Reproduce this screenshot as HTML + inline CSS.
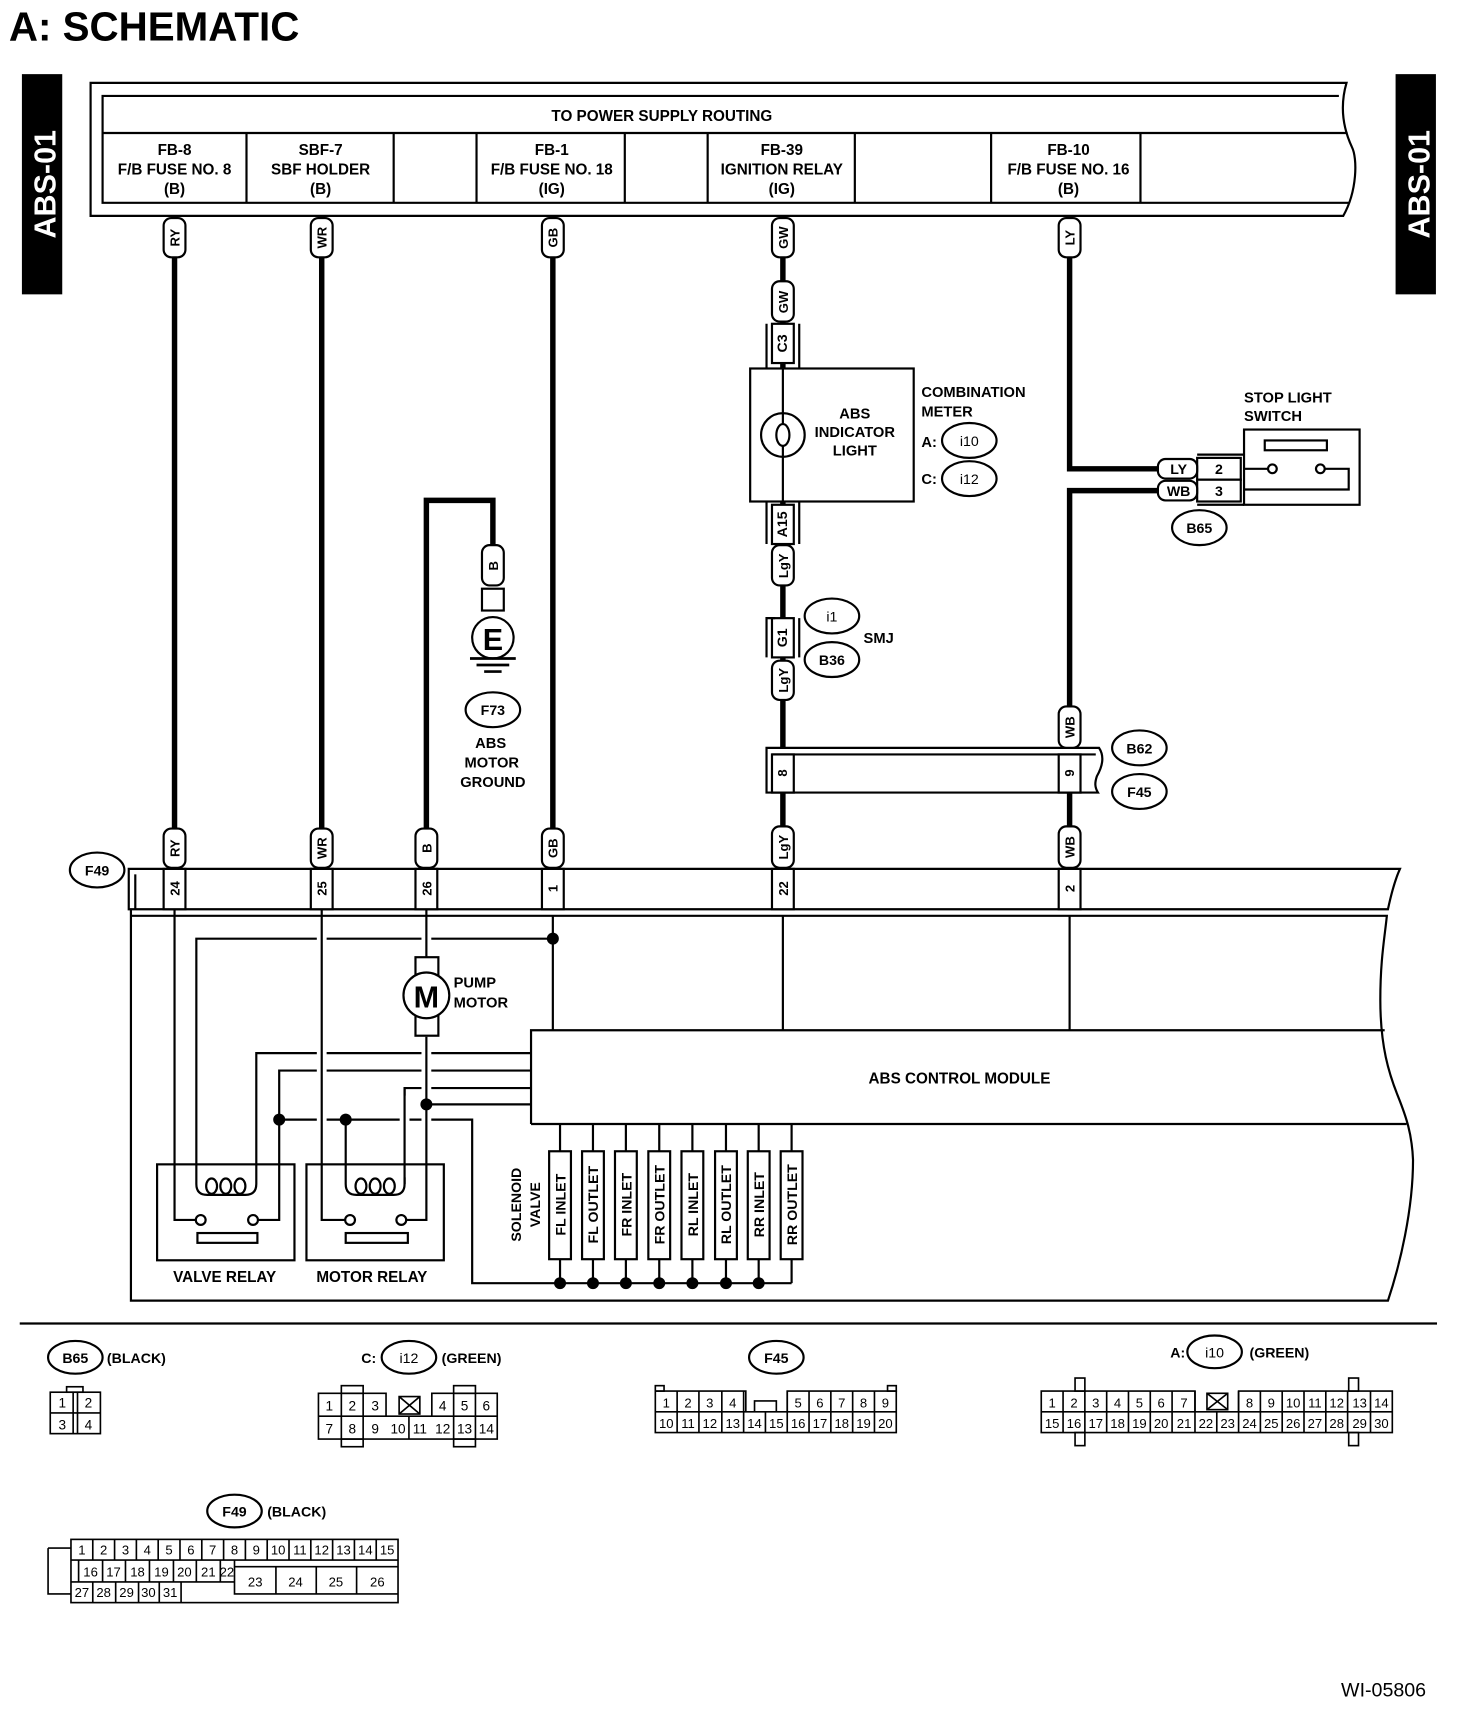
<!DOCTYPE html>
<html><head><meta charset="utf-8"><style>
html,body{margin:0;padding:0;background:#fff;}
svg{display:block;}
text{font-family:"Liberation Sans",Arial,sans-serif;font-weight:bold;fill:#000;}
.n{font-family:"Liberation Sans Narrow","Liberation Sans",sans-serif;}
</style></head><body>
<svg width="1472" height="1716" viewBox="0 0 1350 1574" xmlns="http://www.w3.org/2000/svg">
<rect width="1350" height="1574" fill="#fff"/>
<text x="8" y="37" font-size="37">A:  SCHEMATIC</text>

<!-- side bars -->
<rect x="20" y="68" width="37" height="202" fill="#000"/>
<text transform="translate(51,169) rotate(-90)" text-anchor="middle" font-size="28" style="fill:#fff">ABS-01</text>
<rect x="1280" y="68" width="37" height="202" fill="#000"/>
<text transform="translate(1311,169) rotate(-90)" text-anchor="middle" font-size="28" style="fill:#fff">ABS-01</text>

<g fill="none" stroke="#000" stroke-width="2">
<path d="M1235 76 H83 V198 H1232 C1245 175 1245 145 1240 135 C1233 120 1228 100 1235 76 Z"/>
<path d="M1228 88 H94 V186 H1238"/>
<line x1="94" y1="122" x2="1236" y2="122"/>
<line x1="226" y1="122" x2="226" y2="186"/><line x1="361" y1="122" x2="361" y2="186"/>
<line x1="437" y1="122" x2="437" y2="186"/><line x1="573" y1="122" x2="573" y2="186"/>
<line x1="649" y1="122" x2="649" y2="186"/><line x1="784" y1="122" x2="784" y2="186"/>
<line x1="909" y1="122" x2="909" y2="186"/><line x1="1046" y1="122" x2="1046" y2="186"/>
</g>
<g font-size="14" text-anchor="middle" class="n">
<text x="607" y="111" class="n">TO POWER SUPPLY ROUTING</text>
<text x="160" y="142" class="n">FB-8</text><text x="160" y="160" class="n">F/B FUSE NO. 8</text><text x="160" y="178" class="n">(B)</text>
<text x="294" y="142" class="n">SBF-7</text><text x="294" y="160" class="n">SBF HOLDER</text><text x="294" y="178" class="n">(B)</text>
<text x="506" y="142" class="n">FB-1</text><text x="506" y="160" class="n">F/B FUSE NO. 18</text><text x="506" y="178" class="n">(IG)</text>
<text x="717" y="142" class="n">FB-39</text><text x="717" y="160" class="n">IGNITION RELAY</text><text x="717" y="178" class="n">(IG)</text>
<text x="980" y="142" class="n">FB-10</text><text x="980" y="160" class="n">F/B FUSE NO. 16</text><text x="980" y="178" class="n">(B)</text>
</g>

<g stroke="#000" stroke-width="5" fill="none">
<line x1="160" y1="236" x2="160" y2="760"/>
<line x1="295" y1="236" x2="295" y2="760"/>
<line x1="507" y1="236" x2="507" y2="760"/>
<line x1="718" y1="236" x2="718" y2="760"/>
<path d="M981 236 V430 H1062"/>
<path d="M1062 450 H981 V760"/>
<path d="M391 760 V459 H452 V500"/>
</g>

<g stroke="#000" stroke-width="2" fill="#fff">
<rect x="688" y="338" width="150" height="122"/>
<rect x="708" y="297" width="20" height="36"/>
<rect x="708" y="463" width="20" height="36"/>
<rect x="708" y="567" width="20" height="36"/>
</g>
<g stroke="#000" stroke-width="2" fill="none">
<path d="M703 338 V297 M733 338 V297 M703 460 V499 M733 460 V499 M703 603 V567 H711 M733 603 V567"/>
<line x1="718" y1="338" x2="718" y2="460"/>
<circle cx="718" cy="399" r="20" fill="#fff"/>
<ellipse cx="718" cy="399" rx="6" ry="10"/>
<line x1="718" y1="379" x2="718" y2="389"/><line x1="718" y1="409" x2="718" y2="419"/>
</g>
<g font-size="13.5" text-anchor="middle">
<text x="784" y="384">ABS</text><text x="784" y="401">INDICATOR</text><text x="784" y="418">LIGHT</text>
</g>
<text x="845" y="364" font-size="13.5">COMBINATION</text>
<text x="845" y="382" font-size="13.5">METER</text>
<text x="845" y="410" font-size="13.5">A:</text>
<text x="845" y="444" font-size="13.5">C:</text>
<g stroke="#000" stroke-width="2" fill="#fff">
<ellipse cx="889" cy="404" rx="25" ry="16"/>
<ellipse cx="889" cy="439" rx="25" ry="16"/>
<ellipse cx="763" cy="565" rx="25" ry="16"/>
<ellipse cx="763" cy="605" rx="25" ry="16"/>
<ellipse cx="1045" cy="686" rx="25" ry="16"/>
<ellipse cx="1045" cy="726" rx="25" ry="16"/>
<ellipse cx="1100" cy="484" rx="25" ry="16"/>
<ellipse cx="452" cy="651" rx="25" ry="16"/>
<ellipse cx="89" cy="798" rx="25" ry="16"/>
</g>
<g font-size="13" text-anchor="middle">
<text x="889" y="409" style="font-weight:normal">i10</text>
<text x="889" y="444" style="font-weight:normal">i12</text>
<text x="763" y="570" style="font-weight:normal">i1</text>
<text x="763" y="610">B36</text>
<text x="1045" y="691">B62</text>
<text x="1045" y="731">F45</text>
<text x="1100" y="489">B65</text>
<text x="452" y="656">F73</text>
<text x="89" y="803">F49</text>
</g>
<text x="792" y="590" font-size="13.5">SMJ</text>
<g font-size="13" text-anchor="middle">
<text transform="translate(722,315) rotate(-90)" text-anchor="middle">C3</text>
<text transform="translate(722,481) rotate(-90)" text-anchor="middle">A15</text>
<text transform="translate(722,585) rotate(-90)" text-anchor="middle">G1</text>
</g>

<g stroke="#000" stroke-width="2" fill="#fff">
<rect x="1141" y="394" width="106" height="69"/>
<rect x="1160" y="404" width="57" height="9"/>
<rect x="1098" y="420" width="40" height="20"/>
<rect x="1098" y="440" width="40" height="20"/>
<rect x="1062" y="421" width="36" height="18" rx="7"/>
<rect x="1062" y="441" width="36" height="18" rx="7"/>
</g>
<g stroke="#000" stroke-width="2" fill="none">
<path d="M1098 417 H1141 M1098 463 H1141"/>
<path d="M1141 430 H1163 M1215 430 H1237 V449 H1141"/>
<circle cx="1167" cy="430" r="4" fill="#fff"/><circle cx="1211" cy="430" r="4" fill="#fff"/>
</g>
<g font-size="13" text-anchor="middle">
<text x="1081" y="435">LY</text><text x="1081" y="455">WB</text>
<text x="1118" y="435">2</text><text x="1118" y="455">3</text>
</g>
<text x="1141" y="369" font-size="13.5">STOP LIGHT</text>
<text x="1141" y="386" font-size="13.5">SWITCH</text>

<g stroke="#000" stroke-width="2" fill="#fff">
<rect x="442" y="540" width="20" height="20"/>
<circle cx="452" cy="585" r="19"/>
</g>
<g stroke="#000" stroke-width="2.5">
<line x1="431" y1="604" x2="473" y2="604"/>
<line x1="437" y1="610" x2="467" y2="610"/>
<line x1="444" y1="616" x2="460" y2="616"/>
</g>
<text x="452" y="596" font-size="28" text-anchor="middle">E</text>
<g font-size="13.5" text-anchor="middle">
<text x="450" y="686">ABS</text><text x="451" y="704">MOTOR</text><text x="452" y="722">GROUND</text>
</g>

<g stroke="#000" stroke-width="2" fill="#fff">
<path d="M703 727 V686 H1008 C1014 695 1010 705 1006 712 C1004 718 1004 722 1007 727 Z"/>
<line x1="708" y1="692" x2="1005" y2="692" fill="none"/>
<rect x="708" y="692" width="20" height="35"/>
<rect x="971" y="692" width="20" height="35"/>
</g>
<g font-size="12" text-anchor="middle">
<text transform="translate(722,709) rotate(-90)" text-anchor="middle">8</text>
<text transform="translate(985,709) rotate(-90)" text-anchor="middle">9</text>
</g>

<g stroke="#000" stroke-width="2" fill="#fff">
<rect x="150" y="200" width="20" height="36" rx="7"/>
<rect x="285" y="200" width="20" height="36" rx="7"/>
<rect x="497" y="200" width="20" height="36" rx="7"/>
<rect x="708" y="200" width="20" height="36" rx="7"/>
<rect x="971" y="200" width="20" height="36" rx="7"/>
<rect x="708" y="258" width="20" height="37" rx="7"/>
<rect x="708" y="500" width="20" height="37" rx="7"/>
<rect x="708" y="606" width="20" height="36" rx="7"/>
<rect x="971" y="648" width="20" height="38" rx="7"/>
<rect x="442" y="500" width="20" height="37" rx="7"/>
<rect x="150" y="760" width="20" height="36" rx="7"/>
<rect x="285" y="760" width="20" height="36" rx="7"/>
<rect x="381" y="760" width="20" height="36" rx="7"/>
<rect x="497" y="760" width="20" height="36" rx="7"/>
<rect x="708" y="758" width="20" height="38" rx="7"/>
<rect x="971" y="758" width="20" height="38" rx="7"/>
</g>
<g font-size="12">
<text transform="translate(164.5,218) rotate(-90)" text-anchor="middle">RY</text>
<text transform="translate(299.5,218) rotate(-90)" text-anchor="middle">WR</text>
<text transform="translate(511.5,218) rotate(-90)" text-anchor="middle">GB</text>
<text transform="translate(722.5,218) rotate(-90)" text-anchor="middle">GW</text>
<text transform="translate(985.5,218) rotate(-90)" text-anchor="middle">LY</text>
<text transform="translate(722.5,277) rotate(-90)" text-anchor="middle">GW</text>
<text transform="translate(722.5,519) rotate(-90)" text-anchor="middle">LgY</text>
<text transform="translate(722.5,624) rotate(-90)" text-anchor="middle">LgY</text>
<text transform="translate(985.5,667) rotate(-90)" text-anchor="middle">WB</text>
<text transform="translate(456.5,519) rotate(-90)" text-anchor="middle">B</text>
<text transform="translate(164.5,778) rotate(-90)" text-anchor="middle">RY</text>
<text transform="translate(299.5,778) rotate(-90)" text-anchor="middle">WR</text>
<text transform="translate(395.5,778) rotate(-90)" text-anchor="middle">B</text>
<text transform="translate(511.5,778) rotate(-90)" text-anchor="middle">GB</text>
<text transform="translate(722.5,777) rotate(-90)" text-anchor="middle">LgY</text>
<text transform="translate(985.5,777) rotate(-90)" text-anchor="middle">WB</text>
</g>

<g stroke="#000" stroke-width="2" fill="none">
<path d="M118 797 H1284 C1279 808 1276 820 1273 834 H118 Z"/>
<line x1="124" y1="802" x2="124" y2="834"/>
<path d="M120 834 V1193 H1273 C1284 1160 1296 1110 1296 1064 C1295 1040 1290 1025 1282 1005 C1274 985 1266 960 1266 917 C1266 880 1270 860 1272 840 H120"/>
<path d="M487 1031 V945 H1270"/>
<line x1="487" y1="1031" x2="1290" y2="1031"/>
<line x1="718" y1="840" x2="718" y2="945"/>
<line x1="981" y1="840" x2="981" y2="945"/>
<line x1="507" y1="840" x2="507" y2="945"/>
</g>
<g stroke="#000" stroke-width="2" fill="#fff">
<rect x="150" y="797" width="20" height="37"/>
<rect x="285" y="797" width="20" height="37"/>
<rect x="381" y="797" width="20" height="37"/>
<rect x="497" y="797" width="20" height="37"/>
<rect x="708" y="797" width="20" height="37"/>
<rect x="971" y="797" width="20" height="37"/>
</g>
<g font-size="12">
<text transform="translate(164.5,815) rotate(-90)" text-anchor="middle">24</text>
<text transform="translate(299.5,815) rotate(-90)" text-anchor="middle">25</text>
<text transform="translate(395.5,815) rotate(-90)" text-anchor="middle">26</text>
<text transform="translate(511.5,815) rotate(-90)" text-anchor="middle">1</text>
<text transform="translate(722.5,815) rotate(-90)" text-anchor="middle">22</text>
<text transform="translate(985.5,815) rotate(-90)" text-anchor="middle">2</text>
</g>
<text x="880" y="994" font-size="14" text-anchor="middle">ABS CONTROL MODULE</text>

<g stroke="#000" stroke-width="2" fill="none">
<path d="M180 1086 V861 H507"/>
<path d="M235 1086 V966 H487"/>
<path d="M232 1119 H256 V982 H487"/>
<path d="M371 1086 V998 H487"/>
<path d="M391 1013 H487"/>
<path d="M256 1027 H433 V1177 H726"/>
<path d="M317 1086 V1027"/>
<path d="M160 834 V1119 H180"/>
</g>
<g fill="none">
<path d="M295 842 V1112 M391 842 V876 M391 955 V1112 M371 1005 V1080" stroke="#fff" stroke-width="9"/>
<path d="M295 834 V1119 H317 M391 834 V880 M391 951 V1119 H372" stroke="#000" stroke-width="2"/>
<path d="M371 998 V1086" stroke="#000" stroke-width="2"/>
</g>
<g stroke="#000" stroke-width="2" fill="#fff">
<rect x="381" y="878" width="21" height="72"/>
<circle cx="391" cy="913" r="21"/>
</g>
<text x="391" y="924" font-size="28" text-anchor="middle">M</text>
<text x="416" y="906" font-size="13.5">PUMP</text>
<text x="416" y="924" font-size="13.5">MOTOR</text>

<g stroke="#000" stroke-width="2" fill="none">
<rect x="144" y="1068" width="126" height="88"/>
<rect x="281" y="1068" width="126" height="88"/>
<rect x="181" y="1131" width="55" height="9"/>
<rect x="317" y="1131" width="57" height="9"/>
<path d="M180 1086 Q180 1096 190 1096 H225 Q235 1096 235 1086"/>
<path d="M317 1086 Q317 1096 327 1096 H361 Q371 1096 371 1086"/>
<ellipse cx="194" cy="1088" rx="5" ry="7"/><ellipse cx="207" cy="1088" rx="5" ry="7"/><ellipse cx="220" cy="1088" rx="5" ry="7"/>
<ellipse cx="331" cy="1088" rx="5" ry="7"/><ellipse cx="344" cy="1088" rx="5" ry="7"/><ellipse cx="357" cy="1088" rx="5" ry="7"/>
<circle cx="184" cy="1119" r="4.5" fill="#fff"/><circle cx="232" cy="1119" r="4.5" fill="#fff"/>
<circle cx="321" cy="1119" r="4.5" fill="#fff"/><circle cx="368" cy="1119" r="4.5" fill="#fff"/>
</g>
<text x="206" y="1176" font-size="14" text-anchor="middle">VALVE RELAY</text>
<text x="341" y="1176" font-size="14" text-anchor="middle">MOTOR RELAY</text>

<g stroke="#000" stroke-width="2" fill="none">
<path d="M513.6 1031 V1177 M543.8 1031 V1177 M574 1031 V1177 M604.6 1031 V1177 M635 1031 V1177 M665.8 1031 V1177 M695.8 1031 V1177 M726 1031 V1177"/>
</g>
<g stroke="#000" stroke-width="2" fill="#fff">
<rect x="503.6" y="1056" width="20" height="99"/>
<rect x="533.8" y="1056" width="20" height="99"/>
<rect x="564" y="1056" width="20" height="99"/>
<rect x="594.6" y="1056" width="20" height="99"/>
<rect x="625" y="1056" width="20" height="99"/>
<rect x="655.8" y="1056" width="20" height="99"/>
<rect x="685.8" y="1056" width="20" height="99"/>
<rect x="716" y="1056" width="20" height="99"/>
</g>
<g font-size="13">
<text transform="translate(518.5,1105) rotate(-90)" text-anchor="middle">FL INLET</text>
<text transform="translate(548.5,1105) rotate(-90)" text-anchor="middle">FL OUTLET</text>
<text transform="translate(579,1105) rotate(-90)" text-anchor="middle">FR INLET</text>
<text transform="translate(609.5,1105) rotate(-90)" text-anchor="middle">FR OUTLET</text>
<text transform="translate(640,1105) rotate(-90)" text-anchor="middle">RL INLET</text>
<text transform="translate(670.5,1105) rotate(-90)" text-anchor="middle">RL OUTLET</text>
<text transform="translate(700.5,1105) rotate(-90)" text-anchor="middle">RR INLET</text>
<text transform="translate(731,1105) rotate(-90)" text-anchor="middle">RR OUTLET</text>
<text transform="translate(478,1105) rotate(-90)" text-anchor="middle">SOLENOID</text>
<text transform="translate(495,1105) rotate(-90)" text-anchor="middle">VALVE</text>
</g>
<g fill="#000">
<circle cx="507" cy="861" r="5.5"/><circle cx="391" cy="1013" r="5.5"/>
<circle cx="256" cy="1027" r="5.5"/><circle cx="317" cy="1027" r="5.5"/>
<circle cx="513.6" cy="1177" r="5.5"/><circle cx="543.8" cy="1177" r="5.5"/><circle cx="574" cy="1177" r="5.5"/>
<circle cx="604.6" cy="1177" r="5.5"/><circle cx="635" cy="1177" r="5.5"/><circle cx="665.8" cy="1177" r="5.5"/>
<circle cx="695.8" cy="1177" r="5.5"/>
</g>

<line x1="18" y1="1214" x2="1318" y2="1214" stroke="#000" stroke-width="2"/>

<g stroke="#000" stroke-width="2" fill="#fff">
<ellipse cx="69" cy="1245" rx="25" ry="15"/>
<ellipse cx="375" cy="1245" rx="25" ry="15"/>
<ellipse cx="712" cy="1245" rx="25" ry="15"/>
<ellipse cx="1114" cy="1240" rx="25" ry="15"/>
<ellipse cx="215" cy="1386" rx="25" ry="15"/>
</g>
<g font-size="13">
<text x="69" y="1250" text-anchor="middle">B65</text><text x="98" y="1250">(BLACK)</text>
<text x="345" y="1250" text-anchor="end">C:</text>
<text x="375" y="1250" text-anchor="middle" style="font-weight:normal">i12</text><text x="405" y="1250">(GREEN)</text>
<text x="712" y="1250" text-anchor="middle">F45</text>
<text x="1087" y="1245" text-anchor="end">A:</text>
<text x="1114" y="1245" text-anchor="middle" style="font-weight:normal">i10</text><text x="1146" y="1245">(GREEN)</text>
<text x="215" y="1391" text-anchor="middle">F49</text><text x="245" y="1391">(BLACK)</text>
</g>

<g stroke="#000" stroke-width="1.5" fill="none">
<rect x="61" y="1272" width="15" height="5"/>
<rect x="46" y="1277" width="46" height="38"/>
<path d="M67 1277 V1315 M71 1277 V1315 M46 1296 H92"/>
<!-- i12 -->
<path d="M354 1299 V1278 H292 V1320 H456 V1278 H396 V1299 M292 1299 H456"/>
<path d="M313 1278 V1320 M333 1278 V1320 M375 1299 V1320 M416 1278 V1320 M436 1278 V1320"/>
<rect x="366" y="1281" width="19" height="16"/><path d="M366 1281 L385 1297 M385 1281 L366 1297"/>
<rect x="313" y="1271" width="20" height="7"/><rect x="313" y="1320" width="20" height="7"/>
<rect x="416" y="1271" width="20" height="7"/><rect x="416" y="1320" width="20" height="7"/>
<!-- F45 -->
<path d="M684 1295 V1276 H601 V1314 H822 V1276 H722 V1295 M601 1295 H822 M692 1295 V1285 H712 V1295"/>
<path d="M621 1276 V1314 M641 1276 V1314 M662 1276 V1314 M682 1276 V1314 M702 1295 V1314 M722 1276 V1314 M742 1276 V1314 M762 1276 V1314 M782 1276 V1314 M802 1276 V1314"/>
<rect x="601" y="1271" width="8" height="5"/><rect x="814" y="1271" width="8" height="5"/>
<!-- i10 -->
<path d="M1096 1295 V1276 H955 V1314 H1277 V1276 H1136 V1295 M955 1295 H1277"/>
<path d="M975 1276 V1314 M995 1276 V1314 M1015 1276 V1314 M1035 1276 V1314 M1055 1276 V1314 M1075 1276 V1314 M1096 1276 V1314 M1116 1295 V1314 M1136 1276 V1314 M1156 1276 V1314 M1176 1276 V1314 M1196 1276 V1314 M1216 1276 V1314 M1236 1276 V1314 M1257 1276 V1314"/>
<rect x="1107" y="1278" width="19" height="15"/><path d="M1107 1278 L1126 1293 M1126 1278 L1107 1293"/>
<rect x="986" y="1264" width="9" height="12"/><rect x="986" y="1314" width="9" height="12"/>
<rect x="1237" y="1264" width="9" height="12"/><rect x="1237" y="1314" width="9" height="12"/>
<!-- F49 -->
<rect x="65" y="1412" width="300" height="58"/>
<path d="M65 1431 H365 M65 1451 H215 M215 1437 H365 M215 1431 V1462 H365"/>
<path d="M44 1420 H65 M44 1420 V1462 H65"/>
<path d="M85 1412 V1431 M105 1412 V1431 M125 1412 V1431 M145 1412 V1431 M165 1412 V1431 M185 1412 V1431 M205 1412 V1431 M225 1412 V1431 M245 1412 V1431 M265 1412 V1431 M285 1412 V1431 M305 1412 V1431 M325 1412 V1431 M345 1412 V1431"/>
<path d="M72 1431 V1451 M94 1431 V1451 M115 1431 V1451 M137 1431 V1451 M159 1431 V1451 M180 1431 V1451 M202 1431 V1451"/>
<path d="M85 1451 V1470 M106 1451 V1470 M127 1451 V1470 M146 1451 V1470 M166 1451 V1470"/>
<path d="M253 1437 V1462 M290 1437 V1462 M327 1437 V1462"/>
</g>
<g font-size="12.5" text-anchor="middle">
<text x="57" y="1291" style="font-weight:normal">1</text><text x="81" y="1291" style="font-weight:normal">2</text>
<text x="57" y="1311" style="font-weight:normal">3</text><text x="81" y="1311" style="font-weight:normal">4</text>
</g>
<g font-size="12.5" text-anchor="middle">
<text x="302" y="1294" style="font-weight:normal">1</text><text x="323" y="1294" style="font-weight:normal">2</text><text x="344" y="1294" style="font-weight:normal">3</text>
<text x="406" y="1294" style="font-weight:normal">4</text><text x="426" y="1294" style="font-weight:normal">5</text><text x="446" y="1294" style="font-weight:normal">6</text>
<text x="302" y="1315" style="font-weight:normal">7</text><text x="323" y="1315" style="font-weight:normal">8</text><text x="344" y="1315" style="font-weight:normal">9</text>
<text x="365" y="1315" style="font-weight:normal">10</text><text x="385" y="1315" style="font-weight:normal">11</text>
<text x="406" y="1315" style="font-weight:normal">12</text><text x="426" y="1315" style="font-weight:normal">13</text><text x="446" y="1315" style="font-weight:normal">14</text>
</g>
<g font-size="12" text-anchor="middle">
<text x="611" y="1291" style="font-weight:normal">1</text><text x="631" y="1291" style="font-weight:normal">2</text><text x="651" y="1291" style="font-weight:normal">3</text><text x="672" y="1291" style="font-weight:normal">4</text>
<text x="732" y="1291" style="font-weight:normal">5</text><text x="752" y="1291" style="font-weight:normal">6</text><text x="772" y="1291" style="font-weight:normal">7</text><text x="792" y="1291" style="font-weight:normal">8</text><text x="812" y="1291" style="font-weight:normal">9</text>
<text x="611" y="1310" style="font-weight:normal">10</text><text x="631" y="1310" style="font-weight:normal">11</text><text x="651" y="1310" style="font-weight:normal">12</text><text x="672" y="1310" style="font-weight:normal">13</text><text x="692" y="1310" style="font-weight:normal">14</text><text x="712" y="1310" style="font-weight:normal">15</text><text x="732" y="1310" style="font-weight:normal">16</text><text x="752" y="1310" style="font-weight:normal">17</text><text x="772" y="1310" style="font-weight:normal">18</text><text x="792" y="1310" style="font-weight:normal">19</text><text x="812" y="1310" style="font-weight:normal">20</text>
</g>
<g font-size="12" text-anchor="middle">
<text x="965" y="1291" style="font-weight:normal">1</text><text x="985" y="1291" style="font-weight:normal">2</text><text x="1005" y="1291" style="font-weight:normal">3</text><text x="1025" y="1291" style="font-weight:normal">4</text><text x="1045" y="1291" style="font-weight:normal">5</text><text x="1065" y="1291" style="font-weight:normal">6</text><text x="1086" y="1291" style="font-weight:normal">7</text>
<text x="1146" y="1291" style="font-weight:normal">8</text><text x="1166" y="1291" style="font-weight:normal">9</text><text x="1186" y="1291" style="font-weight:normal">10</text><text x="1206" y="1291" style="font-weight:normal">11</text><text x="1226" y="1291" style="font-weight:normal">12</text><text x="1247" y="1291" style="font-weight:normal">13</text><text x="1267" y="1291" style="font-weight:normal">14</text>
<text x="965" y="1310" style="font-weight:normal">15</text><text x="985" y="1310" style="font-weight:normal">16</text><text x="1005" y="1310" style="font-weight:normal">17</text><text x="1025" y="1310" style="font-weight:normal">18</text><text x="1045" y="1310" style="font-weight:normal">19</text><text x="1065" y="1310" style="font-weight:normal">20</text><text x="1086" y="1310" style="font-weight:normal">21</text><text x="1106" y="1310" style="font-weight:normal">22</text><text x="1126" y="1310" style="font-weight:normal">23</text><text x="1146" y="1310" style="font-weight:normal">24</text><text x="1166" y="1310" style="font-weight:normal">25</text><text x="1186" y="1310" style="font-weight:normal">26</text><text x="1206" y="1310" style="font-weight:normal">27</text><text x="1226" y="1310" style="font-weight:normal">28</text><text x="1247" y="1310" style="font-weight:normal">29</text><text x="1267" y="1310" style="font-weight:normal">30</text>
</g>
<g font-size="12" text-anchor="middle">
<text x="75" y="1426" style="font-weight:normal">1</text><text x="95" y="1426" style="font-weight:normal">2</text><text x="115" y="1426" style="font-weight:normal">3</text><text x="135" y="1426" style="font-weight:normal">4</text><text x="155" y="1426" style="font-weight:normal">5</text><text x="175" y="1426" style="font-weight:normal">6</text><text x="195" y="1426" style="font-weight:normal">7</text><text x="215" y="1426" style="font-weight:normal">8</text><text x="235" y="1426" style="font-weight:normal">9</text><text x="255" y="1426" style="font-weight:normal">10</text><text x="275" y="1426" style="font-weight:normal">11</text><text x="295" y="1426" style="font-weight:normal">12</text><text x="315" y="1426" style="font-weight:normal">13</text><text x="335" y="1426" style="font-weight:normal">14</text><text x="355" y="1426" style="font-weight:normal">15</text>
<text x="83" y="1446" style="font-weight:normal">16</text><text x="104" y="1446" style="font-weight:normal">17</text><text x="126" y="1446" style="font-weight:normal">18</text><text x="148" y="1446" style="font-weight:normal">19</text><text x="169" y="1446" style="font-weight:normal">20</text><text x="191" y="1446" style="font-weight:normal">21</text><text x="208" y="1446" style="font-weight:normal">22</text>
<text x="234" y="1455" style="font-weight:normal">23</text><text x="271" y="1455" style="font-weight:normal">24</text><text x="308" y="1455" style="font-weight:normal">25</text><text x="346" y="1455" style="font-weight:normal">26</text>
<text x="75" y="1465" style="font-weight:normal">27</text><text x="95" y="1465" style="font-weight:normal">28</text><text x="116" y="1465" style="font-weight:normal">29</text><text x="136" y="1465" style="font-weight:normal">30</text><text x="156" y="1465" style="font-weight:normal">31</text>
</g>

<text x="1230" y="1556" font-size="18" style="font-weight:normal">WI-05806</text>
</svg>
</body></html>
